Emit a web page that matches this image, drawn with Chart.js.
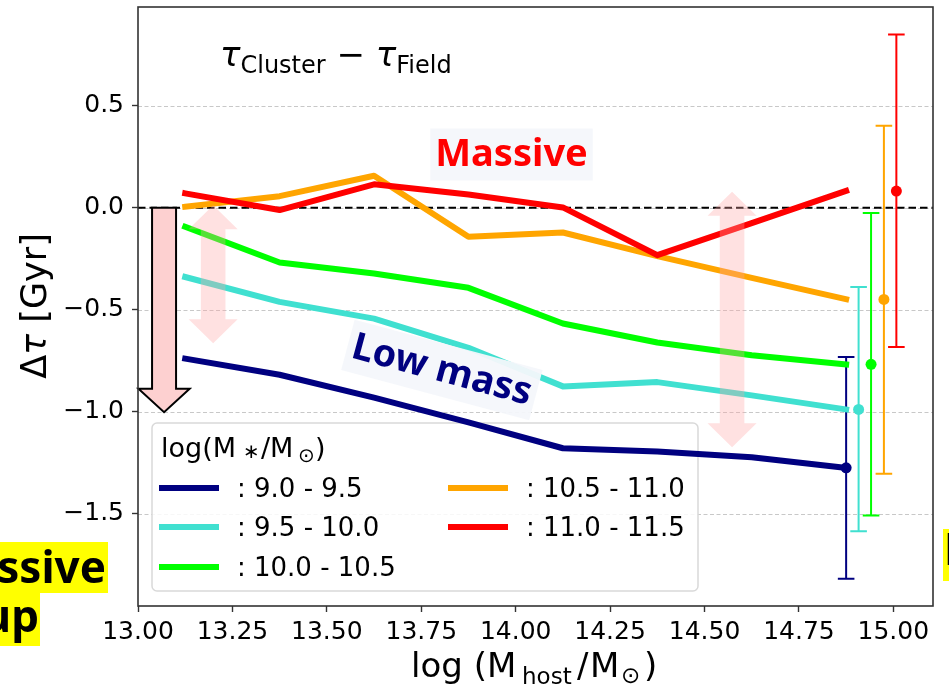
<!DOCTYPE html>
<html>
<head>
<meta charset="utf-8">
<script src="https://cdn.jsdelivr.net/npm/chart.js@4.4.0/dist/chart.umd.min.js"></script>
<style>
html, body { margin: 0; padding: 0; background: #fff; overflow: hidden; }
#wrap { position: relative; width: 949px; height: 686px; }
</style>
</head>
<body>
<div id="wrap"><canvas id="c" width="949" height="686" style="width:949px;height:686px"></canvas></div>
<script>
// Host halo mass bins (x)
const hostMass = [13.125, 13.375, 13.625, 13.875, 14.125, 14.375, 14.625, 14.875];

// Delta tau per stellar mass bin
const dTau_9_0  = [-0.739, -0.818, -0.930, -1.051, -1.178, -1.194, -1.222, -1.274];
const dTau_9_5  = [-0.339, -0.461, -0.543, -0.686, -0.875, -0.854, -0.919, -0.988];
const dTau_10_0 = [-0.093, -0.268, -0.322, -0.392, -0.567, -0.660, -0.722, -0.767];
const dTau_10_5 = [0.005, 0.057, 0.157, -0.142, -0.121, -0.237, -0.343, -0.448];
const dTau_11_0 = [0.071, -0.011, 0.115, 0.065, 0.002, -0.232, -0.075, 0.083];

const binLabels = [': 9.0 - 9.5', ': 9.5 - 10.0', ': 10.0 - 10.5', ': 10.5 - 11.0', ': 11.0 - 11.5'];
const binColors = ['#000080', '#40e0d0', '#00ff00', '#ffa500', '#ff0000'];

// Typical error bars on the right
const errX    = [14.875, 14.908, 14.941, 14.975, 15.008];
const errMid  = [-1.274, -0.988, -0.767, -0.449, 0.082];
const errLow  = [-1.818, -1.585, -1.508, -1.303, -0.682];
const errHigh = [-0.731, -0.388, -0.025, 0.402, 0.849];

const xTicks = [13.00, 13.25, 13.50, 13.75, 14.00, 14.25, 14.50, 14.75, 15.00];
const yTicks = [-1.5, -1.0, -0.5, 0.0, 0.5];

const series = [dTau_9_0, dTau_9_5, dTau_10_0, dTau_10_5, dTau_11_0];

// annotation arrows (data coords)
const fadedArrows = [
    { x: 13.199, from: 0.013, to: -0.664 },
    { x: 14.573, from: 0.079, to: -1.173 }
];
const downArrow = { x: 13.069, from: 0.0, to: -1.001 };

function polygon(ctx, pts) {
    ctx.beginPath();
    ctx.moveTo(pts[0][0], pts[0][1]);
    for (let i = 1; i < pts.length; i++) ctx.lineTo(pts[i][0], pts[i][1]);
    ctx.closePath();
}

function boxedText(ctx, text, cx, cy, angle, font, color) {
    ctx.save();
    ctx.translate(cx, cy);
    ctx.rotate(angle);
    ctx.font = font;
    const w = ctx.measureText(text).width;
    ctx.fillStyle = 'rgba(244,247,251,0.95)';
    ctx.fillRect(-w / 2 - 5, -24, w + 10, 52);
    ctx.fillStyle = color;
    ctx.textAlign = 'center';
    ctx.textBaseline = 'alphabetic';
    ctx.fillText(text, 0, 13.5);
    ctx.restore();
}

const extras = {
    id: 'extras',
    beforeDatasetsDraw(chart) {
        const { ctx, chartArea: a, scales: { x, y } } = chart;
        ctx.save();
        // grid
        ctx.lineWidth = 1;
        ctx.strokeStyle = '#c8c8c8';
        ctx.setLineDash([4, 2.5]);
        yTicks.forEach(v => {
            const py = Math.round(y.getPixelForValue(v)) + 0.5;
            ctx.beginPath(); ctx.moveTo(a.left, py); ctx.lineTo(a.right, py); ctx.stroke();
        });
        // zero line
        ctx.strokeStyle = '#000';
        ctx.lineWidth = 2;
        ctx.setLineDash([7.5, 4]);
        const y0 = y.getPixelForValue(0);
        ctx.beginPath(); ctx.moveTo(a.left, y0); ctx.lineTo(a.right, y0); ctx.stroke();
        ctx.setLineDash([]);

        // legend (drawn under the lines like in the figure)
        const L = a.left + 14, T = a.bottom - 183, W = 546, H = 168;
        ctx.fillStyle = 'rgba(255,255,255,0.85)';
        ctx.strokeStyle = '#d9d9d9';
        ctx.lineWidth = 1.5;
        ctx.beginPath();
        ctx.roundRect(L, T, W, H, 5);
        ctx.fill(); ctx.stroke();
        ctx.fillStyle = '#000';
        ctx.textBaseline = 'alphabetic';
        const tb = T + 34;
        ctx.font = '27px "DejaVu Sans"';
        ctx.fillText('log(M', L + 9, tb);
        ctx.font = '20px "DejaVu Sans"';
        ctx.fillText('\u2217', L + 91, tb + 1);
        ctx.font = '27px "DejaVu Sans"';
        ctx.fillText('/M', L + 109, tb);
        ctx.font = '20px "DejaVu Sans"';
        ctx.fillText('\u2299', L + 146, tb + 5);
        ctx.font = '27px "DejaVu Sans"';
        ctx.fillText(')', L + 163, tb);
        ctx.font = '26px "DejaVu Sans"';
        const rows = [65, 104, 144];
        binLabels.forEach((lab, i) => {
            const col = i < 3 ? 0 : 1;
            const ry = T + rows[i % 3];
            const lx = L + (col ? 296 : 7);
            ctx.strokeStyle = binColors[i];
            ctx.lineWidth = 6;
            ctx.beginPath(); ctx.moveTo(lx, ry); ctx.lineTo(lx + 60, ry); ctx.stroke();
            ctx.fillStyle = '#000';
            ctx.fillText(lab, L + (col ? 374 : 85), ry + 9);
        });

        // error bars
        ctx.lineWidth = 2;
        errX.forEach((ex, i) => {
            const px = x.getPixelForValue(ex);
            const lo = y.getPixelForValue(errLow[i]);
            const hi = y.getPixelForValue(errHigh[i]);
            ctx.strokeStyle = binColors[i];
            ctx.beginPath();
            ctx.moveTo(px, lo); ctx.lineTo(px, hi);
            ctx.moveTo(px - 8.3, lo); ctx.lineTo(px + 8.3, lo);
            ctx.moveTo(px - 8.3, hi); ctx.lineTo(px + 8.3, hi);
            ctx.stroke();
        });
        ctx.restore();
    },
    afterDatasetsDraw(chart) {
        const { ctx, chartArea: a, scales: { x, y } } = chart;
        ctx.save();
        // faded double arrows
        ctx.fillStyle = 'rgba(255,165,165,0.33)';
        fadedArrows.forEach(ar => {
            const cx = x.getPixelForValue(ar.x);
            const t = y.getPixelForValue(ar.from);
            const b = y.getPixelForValue(ar.to);
            const s = 12.3, h = 24.5, hl = 24;
            polygon(ctx, [[cx, t], [cx + h, t + hl], [cx + s, t + hl], [cx + s, b - hl], [cx + h, b - hl],
                [cx, b], [cx - h, b - hl], [cx - s, b - hl], [cx - s, t + hl], [cx - h, t + hl]]);
            ctx.fill();
        });
        // outlined down arrow
        {
            const cx = x.getPixelForValue(downArrow.x);
            const t = y.getPixelForValue(downArrow.from);
            const b = y.getPixelForValue(downArrow.to);
            const s = 12, h = 25.6, hl = 23.4;
            polygon(ctx, [[cx - s, t], [cx + s, t], [cx + s, b - hl], [cx + h, b - hl], [cx, b],
                [cx - h, b - hl], [cx - s, b - hl]]);
            ctx.fillStyle = '#fdd0d0';
            ctx.fill();
            ctx.strokeStyle = '#000';
            ctx.lineWidth = 2;
            ctx.lineJoin = 'miter';
            ctx.stroke();
        }
        // text labels
        boxedText(ctx, 'Massive', x.getPixelForValue(13.989), y.getPixelForValue(0.271), 0,
            'bold 38px "Noto Sans"', '#ff0000');
        boxedText(ctx, 'Low mass', x.getPixelForValue(13.806), y.getPixelForValue(-0.785), 15 * Math.PI / 180,
            'bold 38px "Noto Sans"', '#000080');

        // frame
        ctx.strokeStyle = '#333';
        ctx.lineWidth = 1.6;
        ctx.strokeRect(a.left, a.top, a.right - a.left, a.bottom - a.top);

        // panel title
        ctx.fillStyle = '#000';
        ctx.textBaseline = 'alphabetic';
        let tx = a.left + 82;
        const tb = a.top + 59;
        const parts = [
            ['\u03c4', 'italic 34px "DejaVu Sans"', 0],
            ['Cluster', '24px "DejaVu Sans"', 6.6],
            [' \u2212 ', '34px "DejaVu Sans"', 0],
            ['\u03c4', 'italic 34px "DejaVu Sans"', 0],
            ['Field', '24px "DejaVu Sans"', 6.6]
        ];
        parts.forEach(p => {
            ctx.font = p[1];
            ctx.fillText(p[0], tx, tb + p[2]);
            tx += ctx.measureText(p[0]).width;
        });
        ctx.restore();
    },
    afterDraw(chart) {
        const { ctx } = chart;
        ctx.save();
        ctx.fillStyle = '#000';
        ctx.textBaseline = 'alphabetic';
        // x title
        const xt = [
            ['log (M', '34px "DejaVu Sans"', 411, 677],
            ['host', '23px "DejaVu Sans"', 522, 684],
            ['/', '34px "DejaVu Sans"', 577, 677],
            ['M', '34px "DejaVu Sans"', 590, 677],
            ['\u2299', '23px "DejaVu Sans"', 621, 683],
            [')', '34px "DejaVu Sans"', 644, 677]
        ];
        xt.forEach(p => { ctx.font = p[1]; ctx.fillText(p[0], p[2], p[3]); });

        // y title
        ctx.translate(46, 306);
        ctx.rotate(-Math.PI / 2);
        const yt = [['\u0394', '35px "DejaVu Sans"'], ['\u03c4', 'italic 35px "DejaVu Sans"'], [' [Gyr]', '35px "DejaVu Sans"']];
        let tw = 0;
        yt.forEach(p => { ctx.font = p[1]; tw += ctx.measureText(p[0]).width; });
        let px = -tw / 2;
        yt.forEach(p => { ctx.font = p[1]; ctx.fillText(p[0], px, 0); px += ctx.measureText(p[0]).width; });
        ctx.setTransform(1, 0, 0, 1, 0, 0);

        // clipped labels from neighbouring panels
        ctx.font = 'bold 44px "Noto Sans"';
        ctx.fillStyle = '#ffff00';
        ctx.fillRect(0, 542, 108, 51);
        ctx.fillRect(0, 593, 40, 53);
        ctx.fillRect(943, 529, 10, 52);
        ctx.fillStyle = '#000';
        ctx.textAlign = 'right';
        ctx.fillText('Massive', 106, 583);
        ctx.fillText('group', 39, 632);
        ctx.textAlign = 'left';
        ctx.fillText('Low mass', 944, 565);
        ctx.restore();
    }
};

const lineSets = series.map((vals, i) => ({
    label: binLabels[i],
    data: hostMass.map((m, j) => ({ x: m, y: vals[j] })),
    borderColor: binColors[i],
    borderWidth: 6,
    pointRadius: 0,
    tension: 0,
    fill: false,
    borderCapStyle: 'square',
    borderJoinStyle: 'round',
    order: 5 - i
}));

const dotSet = {
    label: 'errors',
    data: errX.map((v, i) => ({ x: v, y: errMid[i] })),
    showLine: false,
    pointRadius: 5.5,
    pointBorderWidth: 0,
    pointBackgroundColor: binColors,
    pointBorderColor: binColors,
    order: 0
};

const tickFont = { family: 'DejaVu Sans', size: 25 };

new Chart(document.getElementById('c'), {
    type: 'line',
    data: { datasets: [...lineSets, dotSet] },
    options: {
        responsive: false,
        animation: false,
        devicePixelRatio: 1,
        layout: { padding: { top: 7, right: 16, left: 0, bottom: 0 } },
        plugins: { legend: { display: false }, tooltip: { enabled: false } },
        scales: {
            x: {
                type: 'linear',
                min: 13.0,
                max: 15.105,
                afterBuildTicks: s => { s.ticks = xTicks.map(v => ({ value: v })); },
                afterFit: s => { s.height = 80; s.paddingLeft = 0; s.paddingRight = 0; },
                ticks: {
                    font: tickFont, color: '#000', padding: 5, maxRotation: 0, autoSkip: false,
                    callback: v => v.toFixed(2)
                },
                grid: { drawOnChartArea: false, drawTicks: true, tickLength: 6, tickColor: '#333', tickWidth: 1.4 },
                border: { display: false }
            },
            y: {
                type: 'linear',
                min: -1.951,
                max: 0.984,
                afterBuildTicks: s => { s.ticks = yTicks.map(v => ({ value: v })); },
                afterFit: s => { s.width = 138; s.paddingTop = 0; s.paddingBottom = 0; },
                ticks: {
                    font: tickFont, color: '#000', padding: 8,
                    callback: v => (v < 0 ? '\u2212' : '') + Math.abs(v).toFixed(1)
                },
                grid: { drawOnChartArea: false, drawTicks: true, tickLength: 6, tickColor: '#333', tickWidth: 1.4 },
                border: { display: false }
            }
        }
    },
    plugins: [extras]
});
</script>
</body>
</html>
